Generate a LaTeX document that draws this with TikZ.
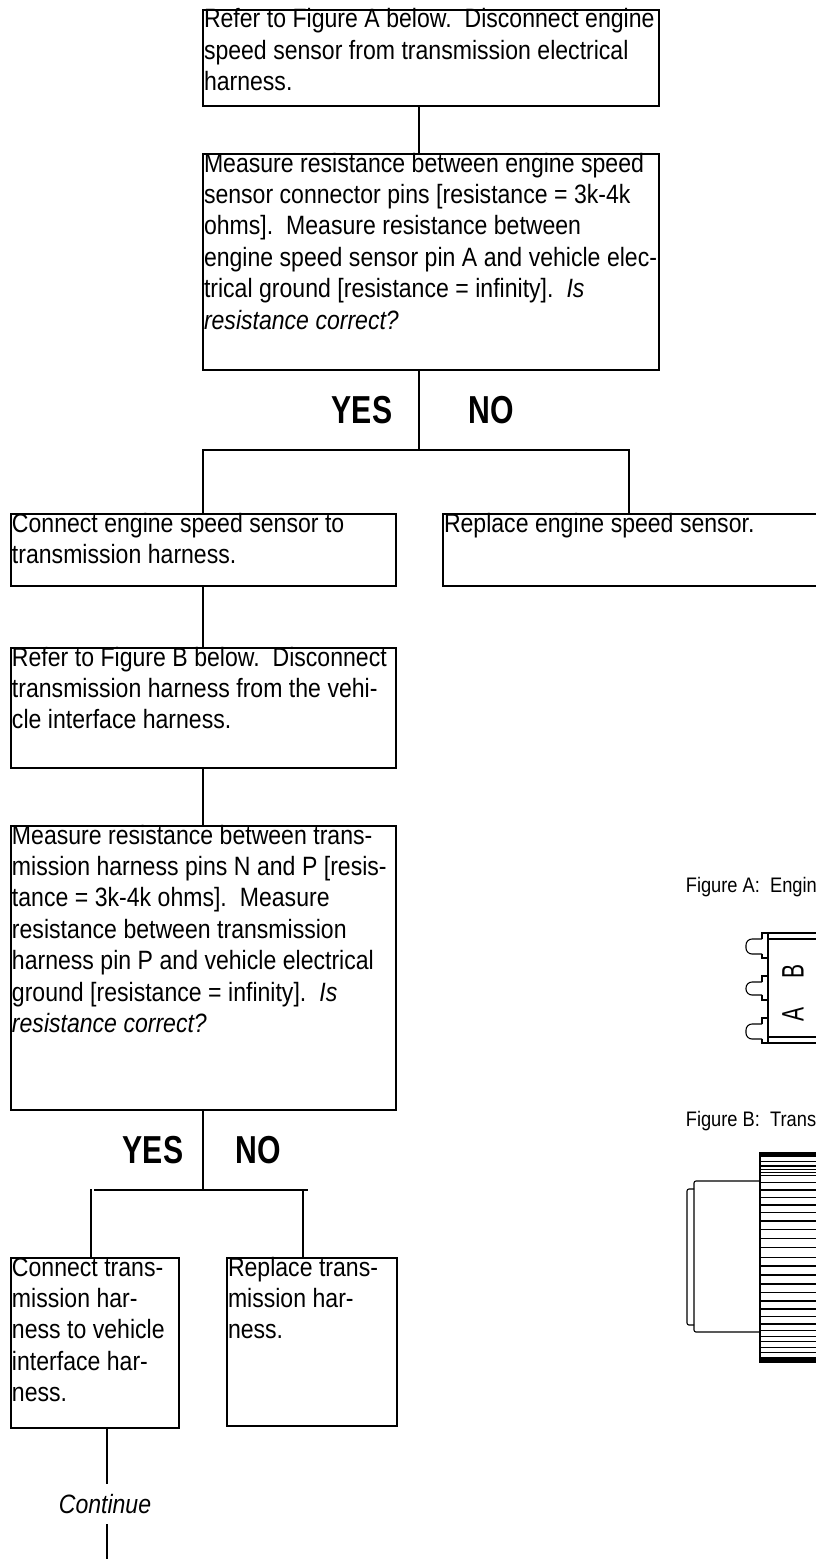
\documentclass[tikz,border=0pt]{standalone}
\usepackage{fontspec}
\setmainfont[FakeStretch=0.87]{Liberation Sans}
\usetikzlibrary{positioning}
\newcommand{\tightwords}{\setlength{\spaceskip}{6.5pt}}
\tikzset{
  flowbox/.style={draw, line width=1.7pt, rectangle, anchor=north west, inner xsep=1pt, inner ysep=0pt, outer sep=0pt,
    align=left, font=\fontsize{26.5}{31.4}\selectfont, text height=18pt, execute at begin node=\tightwords},
  answer/.style={font=\fontsize{39}{42}\selectfont\bfseries, xscale=0.89},
  wire/.style={line width=1.7pt},
  figcap/.style={font=\fontsize{21}{24}\selectfont, anchor=base west, inner xsep=0pt},
  pinlabel/.style={rotate=90, xscale=0.78, font=\fontsize{31}{31}\selectfont},
}
\begin{document}
\begin{tikzpicture}[x=1pt, y=-1pt, wire]
      \useasboundingbox (0,0) rectangle (816,1560);

      \node[flowbox, text width=454pt, text depth=78pt] (b1) at (203,10)
        {Refer to Figure A below.\ \ Disconnect engine\\speed sensor from transmission electrical\\harness.};
      \node[flowbox, text width=454pt, text depth=198pt] (b2) at (203,154)
        {Measure resistance between engine speed\\sensor connector pins [resistance = 3k-4k\\ohms].\ \ Measure resistance between\\engine speed sensor pin A and vehicle elec-\\trical ground [resistance = infinity].\ \ \textit{Is}\\\textit{resistance correct?}};
      \node[flowbox, text width=383pt, text depth=54pt] (b3) at (11,514)
        {Connect engine speed sensor to\\transmission harness.};
      \node[flowbox, text width=400pt, text depth=54pt] (b4) at (443,514)
        {Replace engine speed sensor.};
      \node[flowbox, text width=383pt, text depth=102pt] (b5) at (11,648)
        {Refer to Figure B below.\ \ Disconnect\\transmission harness from the vehi-\\cle interface harness.};
      \node[flowbox, text width=383pt, text depth=266pt] (b6) at (11,826)
        {Measure resistance between trans-\\mission harness pins N and P [resis-\\tance = 3k-4k ohms].\ \ Measure\\resistance between transmission\\harness pin P and vehicle electrical\\ground [resistance = infinity].\ \ \textit{Is}\\\textit{resistance correct?}};
      \node[flowbox, text width=166pt, text depth=152pt] (b7) at (11,1258)
        {Connect trans-\\mission har-\\ness to vehicle\\interface har-\\ness.};
      \node[flowbox, text width=168pt, text depth=150pt] (b8) at (227,1258)
        {Replace trans-\\mission har-\\ness.};

      \node[answer] (yes1) at (362,410) {YES};
      \node[answer] (no1) at (491,410) {NO};
      \node[answer] (yes2) at (153,1150) {YES};
      \node[answer] (no2) at (258,1150) {NO};
      \node[font=\fontsize{26.5}{31}\selectfont\itshape] (cont) at (105,1504) {Continue};

      \coordinate (j1) at (419,450);
      \coordinate (j2) at (203,1190);
      \coordinate (j2l) at (94,1190);
      \coordinate (j2r) at (308,1190);
      \coordinate (e1) at (107,1484);
      \coordinate (e2) at (107,1524);
      \coordinate (e3) at (107,1559);

      \draw (b1.south -| j1) -- (b2.north -| j1);
      \draw (b2.south -| j1) -- (j1);
      \draw (b3.north -| j2) |- (j1) -| (b4.north -| 629,0);
      \draw (b3.south -| j2) -- (b5.north -| j2);
      \draw (b5.south -| j2) -- (b6.north -| j2);
      \draw (b6.south -| j2) -- (j2);
      \draw (j2l) -- (j2r);
      \draw (91,1189) -- (b7.north -| 91,0);
      \draw (303,1190) -- (b8.north -| 303,0);
      \draw (b7.south -| e1) -- (e1);
      \draw (e2) -- (e3);

      % Figure A
      \node[figcap] (capa) at (685,892) {Figure A:\ \ Engin};
      \draw[line width=1.1pt] (830,933) -- (762,933) -- (762,939) (762,954) -- (762,958) -- (768,958)
        (768,976) -- (762,976) -- (762,982) (762,995) -- (762,1000) -- (768,1000)
        (768,1018) -- (762,1018) -- (762,1024) (762,1039) -- (762,1043) -- (830,1043)
        (768,933) -- (768,1043) (768,939) -- (830,939) (768,1037) -- (830,1037);
      \draw[line width=1.1pt, rounded corners=6pt] (762,939) -- (746,939) -- (746,954) -- (762,954);
      \draw[line width=1.1pt, rounded corners=6pt] (762,982) -- (746,982) -- (746,995) -- (762,995);
      \draw[line width=1.1pt, rounded corners=6pt] (762,1024) -- (746,1024) -- (746,1039) -- (762,1039);
      \node[pinlabel] (pinb) at (793,971) {B};
      \node[pinlabel] (pina) at (793,1014) {A};

      % Figure B
      \node[figcap] (capb) at (685,1126) {Figure B:\ \ Trans};
      \draw[line width=1.1pt, rounded corners=2pt] (759,1181) -- (694,1181) -- (694,1332) -- (759,1332);
      \draw[line width=1.1pt, rounded corners=2pt] (694,1189) -- (687,1189) -- (687,1325) -- (694,1325);
      \fill (759,1152) rectangle (830,1157);
      \fill (759,1357) rectangle (830,1363);
      \draw[line width=1.1pt] (760,1152) -- (760,1363);
      \foreach \z in {65,78,88,97,107,128,150,172,195,218,243,268,295,322,352,378,405,432,458,483,507,530,552,572,590,605,622,637}
        \draw[line width=1.4pt] (759,{1140+\z/3}) -- (830,{1140+\z/3});
    \end{tikzpicture}
\end{document}
